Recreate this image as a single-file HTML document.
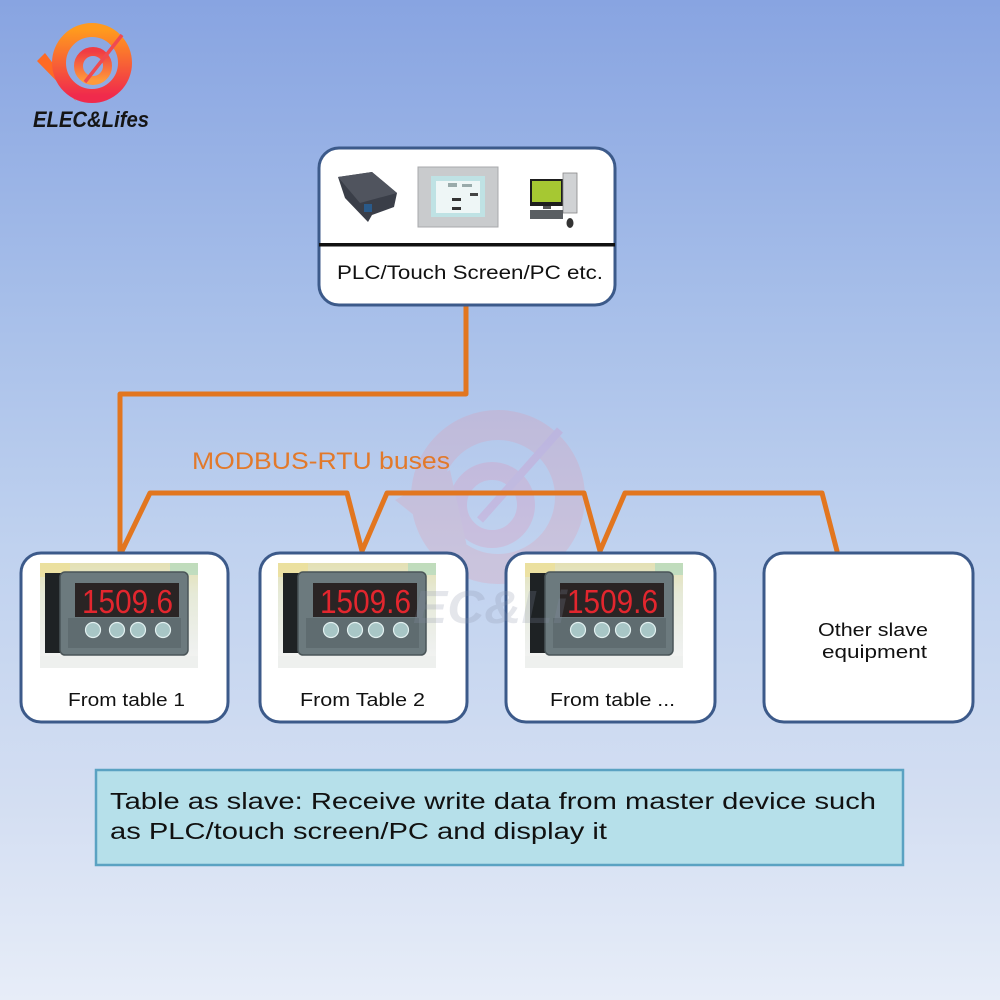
<!DOCTYPE html>
<html><head><meta charset="utf-8"><style>
html,body{margin:0;padding:0;width:1000px;height:1000px;overflow:hidden;}
svg{display:block;}
text{font-family:"Liberation Sans",sans-serif;}
</style></head><body>
<svg width="1000" height="1000" viewBox="0 0 1000 1000" xmlns="http://www.w3.org/2000/svg">
<defs>
<linearGradient id="bg" x1="0" y1="0" x2="0" y2="1">
<stop offset="0" stop-color="#88a4e1"/>
<stop offset="0.3" stop-color="#a6bee9"/>
<stop offset="0.55" stop-color="#c0d2ef"/>
<stop offset="0.8" stop-color="#d3def2"/>
<stop offset="1" stop-color="#e7edf8"/>
</linearGradient>
<linearGradient id="logo" x1="0" y1="0" x2="0" y2="1">
<stop offset="0" stop-color="#ff9a1e"/>
<stop offset="1" stop-color="#f02a4c"/>
</linearGradient>
<linearGradient id="logo2" x1="0" y1="0" x2="0" y2="1">
<stop offset="0" stop-color="#f03c44"/>
<stop offset="1" stop-color="#ff9a3a"/>
</linearGradient>
<linearGradient id="mbg" x1="0" y1="0" x2="0" y2="1">
<stop offset="0" stop-color="#e4e0b4"/>
<stop offset="0.3" stop-color="#e6ead8"/>
<stop offset="0.8" stop-color="#eef0ee"/>
<stop offset="1" stop-color="#f6f6f4"/>
</linearGradient>
</defs>
<rect x="0" y="0" width="1000" height="1000" fill="url(#bg)"/>

<!-- watermark ring -->
<g opacity="0.2">
<circle cx="498" cy="497" r="72" fill="none" stroke="#f08a9a" stroke-width="30"/>
<circle cx="492" cy="505" r="34" fill="none" stroke="#f07aa0" stroke-width="18"/>
<path d="M395 500 L450 470 L470 560 Z" fill="#f08a9a"/>
<path d="M480 520 L560 430" stroke="#e070b0" stroke-width="8"/>
</g>

<!-- logo -->
<path d="M45 53 L37 61 L76 101 L58 70 Z" fill="#ff6a24"/>
<circle cx="92" cy="63" r="33" fill="none" stroke="url(#logo)" stroke-width="14"/>
<circle cx="93" cy="66" r="14.5" fill="none" stroke="url(#logo2)" stroke-width="9"/>
<path d="M85 82 L122 35" stroke="#f04a50" stroke-width="3.5"/>
<text x="33" y="127" font-size="22" font-weight="bold" font-style="italic" fill="#151515" textLength="116" lengthAdjust="spacingAndGlyphs">ELEC&amp;Lifes</text>

<!-- orange connectors -->
<g fill="none" stroke="#e2761f" stroke-width="5" stroke-linejoin="round" stroke-linecap="round">
<path d="M466 305 L466 394 L120 394 L120 551"/>
<path d="M122 551 L150 493 L347 493 L362 551 L387 493 L584 493 L600 551 L625 493 L822 493 L837 551"/>
</g>
<text x="192" y="469" font-size="24" fill="#e2792a" textLength="258" lengthAdjust="spacingAndGlyphs">MODBUS-RTU buses</text>

<!-- top master box -->
<rect x="319" y="148" width="296" height="157" rx="20" fill="#ffffff" stroke="#3c5a8a" stroke-width="3"/>
<rect x="319" y="243" width="296" height="3.5" fill="#111"/>
<text x="337" y="279" font-size="19" fill="#111" textLength="266" lengthAdjust="spacingAndGlyphs">PLC/Touch Screen/PC etc.</text>
<!-- PLC -->
<path d="M338 177 L372 172 L397 193 L394 207 L372 215 L368 222 L345 198 Z" fill="#3a3e48"/>
<path d="M338 177 L372 172 L397 193 L360 203 Z" fill="#50545e"/>
<rect x="364" y="204" width="8" height="8" fill="#2a5a8a"/>
<!-- touch screen -->
<rect x="418" y="167" width="80" height="60" fill="#c9cbcd" stroke="#a8aaac" stroke-width="1"/>
<rect x="431" y="176" width="54" height="41" fill="#bfe2e4"/>
<rect x="436" y="181" width="44" height="32" fill="#eef6f6"/>
<rect x="448" y="183" width="9" height="4" fill="#9aa"/>
<rect x="462" y="184" width="10" height="3" fill="#9aa"/>
<rect x="452" y="198" width="9" height="3" fill="#333"/>
<rect x="452" y="207" width="9" height="3" fill="#333"/>
<rect x="470" y="193" width="8" height="3" fill="#444"/>
<!-- PC -->
<rect x="530" y="179" width="33" height="27" fill="#1e1e1e"/>
<rect x="532" y="181" width="29" height="21" fill="#a6c832"/>
<rect x="543" y="206" width="8" height="3" fill="#555"/>
<rect x="563" y="173" width="14" height="40" fill="#d0d2d4" stroke="#888" stroke-width="0.8"/>
<rect x="530" y="210" width="33" height="9" fill="#5a5e62"/>
<ellipse cx="570" cy="223" rx="3.5" ry="5" fill="#333"/>

<!-- slave boxes -->
<g fill="#ffffff" stroke="#3c5a8a" stroke-width="3">
<rect x="21" y="553" width="207" height="169" rx="20"/>
<rect x="260" y="553" width="207" height="169" rx="20"/>
<rect x="506" y="553" width="209" height="169" rx="20"/>
<rect x="764" y="553" width="209" height="169" rx="20"/>
</g>

<!-- meter images -->
<g transform="translate(40,563)">
<rect width="158" height="105" fill="url(#mbg)"/>
<rect x="0" y="0" width="30" height="14" fill="#f0e090" opacity="0.6"/>
<rect x="130" y="0" width="28" height="12" fill="#a8d8c0" opacity="0.6"/>
<rect x="5" y="10" width="18" height="80" fill="#1e2224"/>
<rect x="20" y="9" width="128" height="83" rx="5" fill="#6c7a7e" stroke="#4a5558" stroke-width="1.5"/>
<rect x="28" y="55" width="113" height="30" fill="#5f6c70"/>
<rect x="35" y="20" width="104" height="34" fill="#2a2424"/>
<text x="42" y="50" font-size="33" fill="#e3262e" textLength="91" lengthAdjust="spacingAndGlyphs">1509.6</text>
<g fill="#a8c6c6" stroke="#e2f0f0" stroke-width="1.2">
<circle cx="53" cy="67" r="7.5"/><circle cx="77" cy="67" r="7.5"/><circle cx="98" cy="67" r="7.5"/><circle cx="123" cy="67" r="7.5"/>
</g>
<rect x="0" y="93" width="158" height="12" fill="#eef0ee"/>
</g>
<g transform="translate(278,563)">
<rect width="158" height="105" fill="url(#mbg)"/>
<rect x="0" y="0" width="30" height="14" fill="#f0e090" opacity="0.6"/>
<rect x="130" y="0" width="28" height="12" fill="#a8d8c0" opacity="0.6"/>
<rect x="5" y="10" width="18" height="80" fill="#1e2224"/>
<rect x="20" y="9" width="128" height="83" rx="5" fill="#6c7a7e" stroke="#4a5558" stroke-width="1.5"/>
<rect x="28" y="55" width="113" height="30" fill="#5f6c70"/>
<rect x="35" y="20" width="104" height="34" fill="#2a2424"/>
<text x="42" y="50" font-size="33" fill="#e3262e" textLength="91" lengthAdjust="spacingAndGlyphs">1509.6</text>
<g fill="#a8c6c6" stroke="#e2f0f0" stroke-width="1.2">
<circle cx="53" cy="67" r="7.5"/><circle cx="77" cy="67" r="7.5"/><circle cx="98" cy="67" r="7.5"/><circle cx="123" cy="67" r="7.5"/>
</g>
<rect x="0" y="93" width="158" height="12" fill="#eef0ee"/>
</g>
<g transform="translate(525,563)">
<rect width="158" height="105" fill="url(#mbg)"/>
<rect x="0" y="0" width="30" height="14" fill="#f0e090" opacity="0.6"/>
<rect x="130" y="0" width="28" height="12" fill="#a8d8c0" opacity="0.6"/>
<rect x="5" y="10" width="18" height="80" fill="#1e2224"/>
<rect x="20" y="9" width="128" height="83" rx="5" fill="#6c7a7e" stroke="#4a5558" stroke-width="1.5"/>
<rect x="28" y="55" width="113" height="30" fill="#5f6c70"/>
<rect x="35" y="20" width="104" height="34" fill="#2a2424"/>
<text x="42" y="50" font-size="33" fill="#e3262e" textLength="91" lengthAdjust="spacingAndGlyphs">1509.6</text>
<g fill="#a8c6c6" stroke="#e2f0f0" stroke-width="1.2">
<circle cx="53" cy="67" r="7.5"/><circle cx="77" cy="67" r="7.5"/><circle cx="98" cy="67" r="7.5"/><circle cx="123" cy="67" r="7.5"/>
</g>
<rect x="0" y="93" width="158" height="12" fill="#eef0ee"/>
</g>

<!-- watermark text on top -->
<text x="413" y="623" font-size="46" font-weight="bold" font-style="italic" fill="#8890a8" opacity="0.22" textLength="154" lengthAdjust="spacingAndGlyphs">EC&amp;Li</text>

<!-- slave labels -->
<g font-size="18.5" fill="#111">
<text x="68" y="706" textLength="117" lengthAdjust="spacingAndGlyphs">From table 1</text>
<text x="300" y="706" textLength="125" lengthAdjust="spacingAndGlyphs">From Table 2</text>
<text x="550" y="706" textLength="125" lengthAdjust="spacingAndGlyphs">From table ...</text>
<text x="818" y="636" textLength="110" lengthAdjust="spacingAndGlyphs">Other slave</text>
<text x="822" y="658" textLength="105" lengthAdjust="spacingAndGlyphs">equipment</text>
</g>

<!-- bottom note -->
<rect x="96" y="770" width="807" height="95" fill="#b6e0ea" stroke="#5aa2c2" stroke-width="2.5"/>
<g font-size="23.5" fill="#111">
<text x="110" y="809" textLength="766" lengthAdjust="spacingAndGlyphs">Table as slave: Receive write data from master device such</text>
<text x="110" y="839" textLength="497" lengthAdjust="spacingAndGlyphs">as PLC/touch screen/PC and display it</text>
</g>
</svg>
</body></html>
